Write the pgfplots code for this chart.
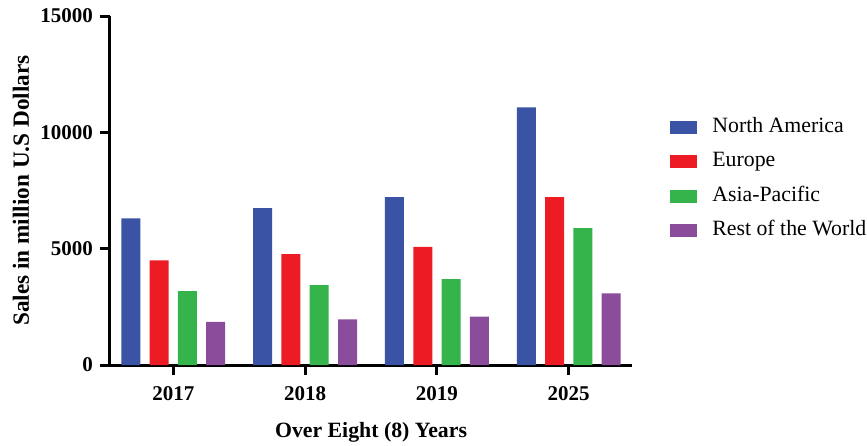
\documentclass[border=0pt]{standalone}
\usepackage{pgfplots}
\pgfplotsset{compat=1.18}
\usepackage{fontspec}
\setmainfont{Liberation Serif}
\definecolor{naBlue}{HTML}{3A53A4}
\definecolor{euRed}{HTML}{ED1C24}
\definecolor{apGreen}{HTML}{34B44A}
\definecolor{rwPurple}{HTML}{8B4C9C}

\begin{document}
\begin{tikzpicture}
\useasboundingbox (-55pt,-40pt) rectangle (378.5pt,182.5pt);
\begin{axis}[
    scale only axis, width=261pt, height=174.5pt,
    ybar=4.65pt, bar width=9.5pt,
    xmin=-0.48, xmax=3.48, ymin=0, ymax=15000,
    xtick={0,1,2,3}, xticklabels={2017,2018,2019,2025},
    ytick={0,5000,10000,15000},
    scaled y ticks=false,
    /pgf/number format/1000 sep={},
    /pgf/number format/assume math mode=true,
    axis x line*=bottom, axis y line*=left,
    axis line style={line width=1.5pt, black},
    tick style={line width=1.5pt, black},
    major tick length=5pt, tick align=outside,
    ticklabel style={font=\bfseries\fontsize{10.5}{12}\selectfont},
    xticklabel style={yshift=-2pt},
    xlabel={Over Eight (8) Years},
    ylabel={Sales in million U.S Dollars},
    xlabel style={font=\bfseries\fontsize{10.9}{12}\selectfont,
        at={(axis description cs:0.5,0)}, yshift=-33.5pt, anchor=center},
    ylabel style={font=\bfseries\fontsize{11.6}{12}\selectfont,
        at={(axis description cs:-0.1705,0.5)}, anchor=center},
    legend cell align=left,
    legend image code/.code={\fill (0pt,-3.25pt) rectangle (13.5pt,3.25pt);},
    legend style={at={(1.0728,0.7115)}, anchor=north west, draw=none, fill=none,
        inner sep=0pt, row sep=7.25pt,
        font=\fontsize{10.9}{12}\selectfont,
        nodes={inner sep=0pt, text height=7.5pt, text depth=2.5pt},
        /tikz/every odd column/.append style={column sep=7.5pt}},
]
\addplot[fill=naBlue, draw=none] coordinates {(0,6300) (1,6740) (2,7210) (3,11070)};
\addplot[fill=euRed, draw=none] coordinates {(0,4500) (1,4770) (2,5080) (3,7210)};
\addplot[fill=apGreen, draw=none] coordinates {(0,3170) (1,3430) (2,3690) (3,5880)};
\addplot[fill=rwPurple, draw=none] coordinates {(0,1850) (1,1960) (2,2080) (3,3080)};
\legend{North America, Europe, Asia-Pacific, Rest of the World}
\end{axis}
\end{tikzpicture}
\end{document}
